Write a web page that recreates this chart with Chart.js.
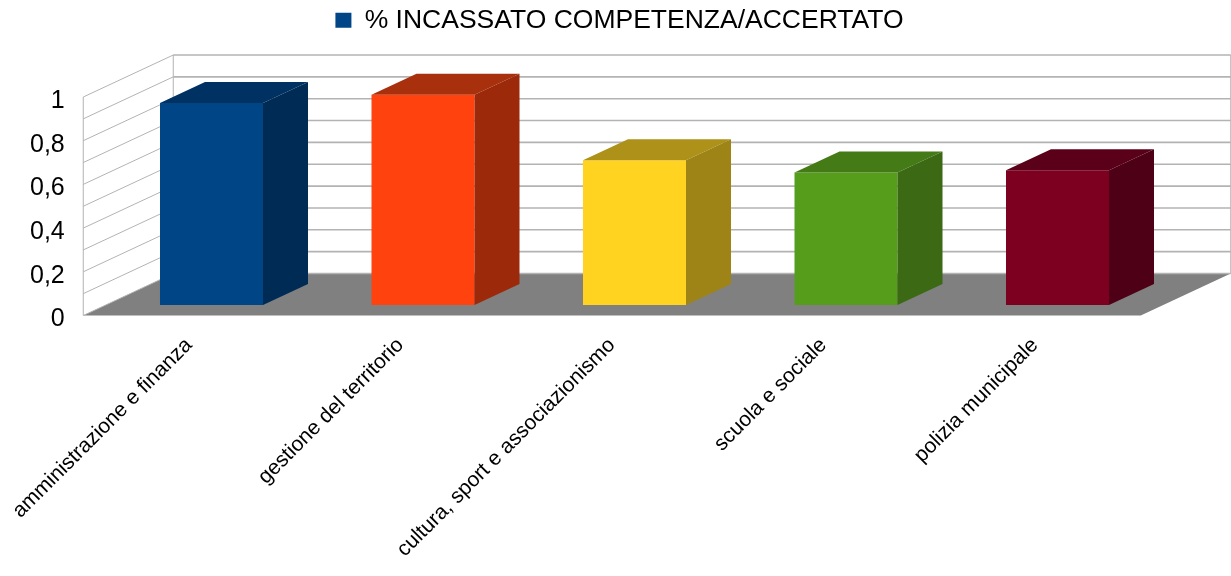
<!DOCTYPE html>
<html>
<head>
<meta charset="utf-8">
<script src="https://cdn.jsdelivr.net/npm/chart.js@4/dist/chart.umd.min.js"></script>
<style>
  html, body { margin: 0; padding: 0; background: #fff; }
  canvas { display: block; }
</style>
</head>
<body>
<canvas id="chart" width="1231" height="576"></canvas>
<script>
// --- dati ---
const categories = [
  "amministrazione e finanza",
  "gestione del territorio",
  "cultura, sport e associazionismo",
  "scuola e sociale",
  "polizia municipale"
];
const seriesName = "% INCASSATO COMPETENZA/ACCERTATO";
const values = [0.924, 0.962, 0.662, 0.606, 0.617];
const yTicks = [0, 0.2, 0.4, 0.6, 0.8, 1];

// --- colori (fronte, sopra, lato) ---
const frontColors = ["#004586", "#ff420e", "#ffd320", "#579d1c", "#7e0021"];
const topColors = ["#003163", "#a8300c", "#ad9118", "#457b17", "#5a0018"];
const sideColors = ["#002b55", "#9c290a", "#9e8416", "#3b6914", "#4e0016"];

// profondità della scena 3D (pixel), le barre occupano la metà centrale
const DEPTH_X = 90;
const DEPTH_Y = 42;
const FRONT = -0.25;
const BACK = 0.75;

const fontFamily = "'Liberation Sans', Arial, sans-serif";

// --- pareti, pavimento e facce 3D delle barre ---
const box3d = {
  id: "box3d",
  beforeDatasetsDraw(chart) {
    const { ctx, chartArea: a, scales: { y } } = chart;
    const fx = DEPTH_X * FRONT, fy = -DEPTH_Y * FRONT;
    const bx = DEPTH_X * BACK, by = -DEPTH_Y * BACK;
    const y0 = y.getPixelForValue(0);
    const y1 = y.getPixelForValue(1);

    ctx.save();
    // pavimento
    ctx.fillStyle = "#808080";
    ctx.beginPath();
    ctx.moveTo(a.left + fx, y0 + fy);
    ctx.lineTo(a.right + fx, y0 + fy);
    ctx.lineTo(a.right + bx, y0 + by);
    ctx.lineTo(a.left + bx, y0 + by);
    ctx.closePath();
    ctx.fill();

    // griglia su parete di fondo e parete sinistra
    ctx.strokeStyle = "#b3b3b3";
    y.ticks.forEach((t) => {
      const py = y.getPixelForValue(t.value);
      ctx.lineWidth = 1.6;
      ctx.beginPath();
      ctx.moveTo(a.left + bx, py + by);
      ctx.lineTo(a.right + bx, py + by);
      ctx.stroke();
      ctx.lineWidth = 1;
      ctx.beginPath();
      ctx.moveTo(a.left + fx, py + fy);
      ctx.lineTo(a.left + bx, py + by);
      ctx.stroke();
    });
    ctx.lineWidth = 1;
    [a.left + fx, a.left + bx].forEach((x, i) => {
      const dy = i === 0 ? fy : by;
      ctx.beginPath();
      ctx.moveTo(x, y1 + dy);
      ctx.lineTo(x, y0 + dy);
      ctx.stroke();
    });
    ctx.beginPath();
    ctx.moveTo(a.right + bx, y1 + by);
    ctx.lineTo(a.right + bx, y0 + by);
    ctx.stroke();
    ctx.restore();
  },
  afterDatasetsDraw(chart) {
    const { ctx } = chart;
    const dx = DEPTH_X * (BACK - FRONT) / 2;
    const dy = DEPTH_Y * (BACK - FRONT) / 2;
    const meta = chart.getDatasetMeta(0);
    ctx.save();
    meta.data.forEach((bar, i) => {
      const { x, y, base, width } = bar.getProps(["x", "y", "base", "width"], true);
      const l = x - width / 2, r = x + width / 2;
      // faccia superiore
      ctx.fillStyle = topColors[i];
      ctx.beginPath();
      ctx.moveTo(l, y);
      ctx.lineTo(r, y);
      ctx.lineTo(r + dx, y - dy);
      ctx.lineTo(l + dx, y - dy);
      ctx.closePath();
      ctx.fill();
      // faccia laterale
      ctx.fillStyle = sideColors[i];
      ctx.beginPath();
      ctx.moveTo(r, y);
      ctx.lineTo(r + dx, y - dy);
      ctx.lineTo(r + dx, base - dy);
      ctx.lineTo(r, base);
      ctx.closePath();
      ctx.fill();
    });
    ctx.restore();
  }
};

new Chart(document.getElementById("chart"), {
  type: "bar",
  data: {
    labels: categories,
    datasets: [{
      label: seriesName,
      data: values,
      backgroundColor: frontColors,
      borderWidth: 0,
      barPercentage: 0.487,
      categoryPercentage: 1
    }]
  },
  options: {
    responsive: false,
    animation: false,
    locale: "it-IT",
    layout: { padding: { left: 8, right: 0, top: 0, bottom: 0 } },
    plugins: {
      tooltip: { enabled: false },
      legend: {
        position: "top",
        labels: {
          color: "#000",
          font: { family: fontFamily, size: 26.5 },
          boxWidth: 16,
          boxHeight: 15,
          padding: 7,
          generateLabels: () => [{
            text: seriesName,
            fillStyle: frontColors[0],
            strokeStyle: frontColors[0],
            lineWidth: 0,
            hidden: false,
            datasetIndex: 0
          }]
        }
      },
      // spazio vuoto tra legenda e area del grafico
      title: {
        display: true,
        text: "",
        weight: 500,
        font: { size: 1, lineHeight: 1 },
        padding: { top: 0, bottom: 42 }
      }
    },
    scales: {
      x: {
        grid: { display: false },
        border: { display: false },
        afterFit: (s) => { s.height = 271; },
        ticks: {
          color: "#000",
          font: { family: fontFamily, size: 21 },
          minRotation: 45,
          maxRotation: 45,
          autoSkip: false,
          labelOffset: DEPTH_X * FRONT,
          padding: 20
        }
      },
      y: {
        min: 0,
        max: 1,
        grid: { display: false },
        border: { display: false },
        afterFit: (s) => { s.width = 97.75; },
        ticks: {
          stepSize: 0.1,
          autoSkip: false,
          color: "#000",
          font: { family: fontFamily, size: 25 },
          labelOffset: -DEPTH_Y * FRONT + 4,
          padding: 33,
          callback: (v) => {
            const hit = yTicks.find((t) => Math.abs(t - v) < 1e-6);
            return hit === undefined ? "" : hit.toLocaleString("it-IT");
          }
        }
      },
      // asse vuoto a destra: lascia lo spazio per la profondità 3D
      yDepth: {
        position: "right",
        display: true,
        grid: { display: false },
        border: { display: false },
        ticks: { display: false },
        afterFit: (s) => { s.width = 67.75; }
      }
    }
  },
  plugins: [box3d]
});
</script>
</body>
</html>
